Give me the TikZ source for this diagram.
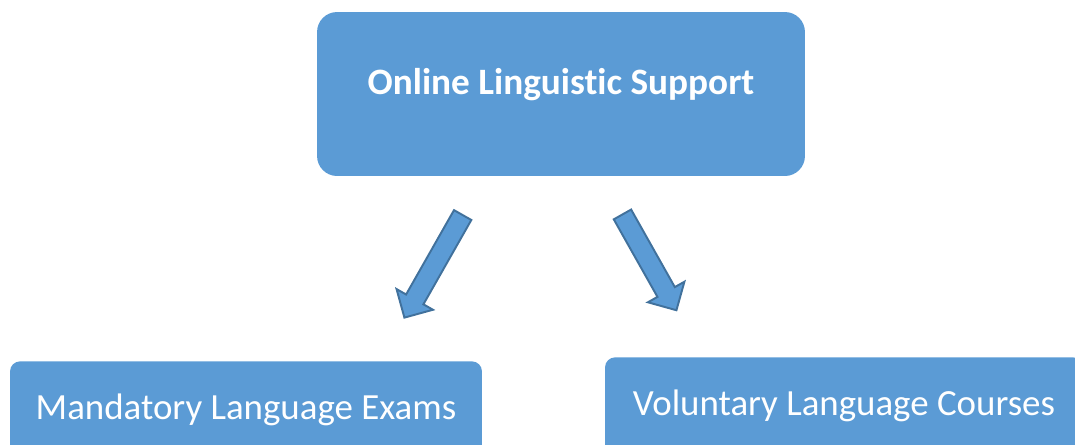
\documentclass[tikz,border=0pt]{standalone}
\usepackage{fontspec}
\setmainfont{Carlito}[Ligatures=NoCommon]
\usepackage{xcolor}
\usetikzlibrary{calc,positioning,shapes.arrows}
\definecolor{boxc}{HTML}{5B9BD5}
\definecolor{edgec}{HTML}{41719C}
\tikzset{
  topbox/.style={fill=boxc,rounded corners=0.4cm,minimum width=9.76cm,minimum height=3.28cm,
    text=white,font=\fontsize{21.2}{25}\selectfont\bfseries,text height=0.5cm,text depth=0.5cm},
  subbox/.style={fill=boxc,rounded corners=0.2cm,minimum height=2.32cm,anchor=north,
    text=white,font=\fontsize{21}{25}\selectfont,text height=0.4cm,text depth=0.4cm},
  blockar/.style={single arrow,draw=edgec,fill=boxc,line width=1.1pt,inner sep=0.18cm,
    single arrow head extend=0.22cm,single arrow tip angle=90}
}
\begin{document}
\begin{tikzpicture}[x=0.02cm,y=-0.02cm]
\clip (0,0) rectangle (1075,444);
\node[topbox] (ols) at (561,94) {Online Linguistic Support};
\node[subbox,minimum width=9.44cm] (mle) at (246,361) {Mandatory Language Exams};
\node[subbox,minimum width=9.56cm] (vlc) at (844,357) {Voluntary Language Courses};
% block arrows below the top box
\node[blockar,minimum height=2.36cm,rotate=240.4] (arl) at (436,262) {};
\node[blockar,minimum height=2.2cm,rotate=299.4] (arr) at (647,258) {};
\end{tikzpicture}
\end{document}
